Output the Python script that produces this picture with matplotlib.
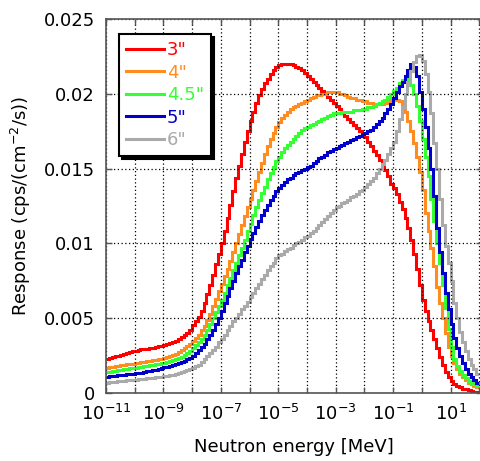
import numpy as np
import matplotlib
matplotlib.use("Agg")
import matplotlib.pyplot as plt

# bin edges: 10 bins per decade, 1e-11 .. 1e2 MeV
edges = 10 ** np.linspace(-11, 2, 131)

labels = ['3"', '4"', '4.5"', '5"', '6"']
colors = ['#ff0000', '#ff8c1e', '#33ff33', '#0000cc', '#aaaaaa']

# responses, one row per decade
r3 = [
    0.00230, 0.00235, 0.00240, 0.00245, 0.00250, 0.00256, 0.00262, 0.00268, 0.00274, 0.00280,
    0.00284, 0.00288, 0.00291, 0.00294, 0.00297, 0.00300, 0.00304, 0.00308, 0.00312, 0.00316,
    0.00322, 0.00328, 0.00334, 0.00341, 0.00350, 0.00360, 0.00372, 0.00386, 0.00402, 0.00422,
    0.00455, 0.0048, 0.0051, 0.0055, 0.0060, 0.0066, 0.0072, 0.0079, 0.0086, 0.0093,
    0.0100, 0.0108, 0.0117, 0.0126, 0.0135, 0.0144, 0.0152, 0.0160, 0.0168, 0.0175,
    0.0182, 0.0188, 0.0194, 0.0199, 0.0203, 0.0207, 0.0210, 0.0213, 0.0216, 0.0218,
    0.0219, 0.0220, 0.0220, 0.0220, 0.0220, 0.0219, 0.0218, 0.0217, 0.0216, 0.0214,
    0.0212, 0.0210, 0.0208, 0.0206, 0.0204, 0.0202, 0.0200, 0.0198, 0.0196, 0.0194,
    0.0192, 0.0190, 0.0187, 0.0185, 0.0183, 0.0181, 0.0179, 0.0177, 0.0175, 0.0173,
    0.0171, 0.0168, 0.0165, 0.0162, 0.0159, 0.0156, 0.0153, 0.0149, 0.0145, 0.0140,
    0.0137, 0.0133, 0.0128, 0.0123, 0.0117, 0.0110, 0.0102, 0.0093, 0.0083, 0.0072,
    0.0062, 0.0055, 0.0048, 0.0042, 0.0036, 0.0030, 0.0024, 0.0019, 0.0014, 0.0011,
    0.0008, 0.0006, 0.0005, 0.0004, 0.0003, 0.00025, 0.0002, 0.00015, 0.0001, 0.0001,
]
r4 = [
    0.00170, 0.00173, 0.00176, 0.00179, 0.00182, 0.00185, 0.00188, 0.00191, 0.00194, 0.00197,
    0.00200, 0.00203, 0.00206, 0.00209, 0.00212, 0.00215, 0.00218, 0.00221, 0.00225, 0.00229,
    0.00234, 0.00240, 0.00247, 0.00255, 0.00264, 0.00274, 0.00285, 0.00298, 0.00312, 0.00328,
    0.00345, 0.00365, 0.0039, 0.0042, 0.0045, 0.0049, 0.0053, 0.0058, 0.0063, 0.0068,
    0.0073, 0.0078, 0.0083, 0.0088, 0.0094, 0.0100, 0.0106, 0.0112, 0.0118, 0.0124,
    0.0130, 0.0136, 0.0142, 0.0148, 0.0154, 0.0160, 0.0165, 0.0170, 0.0174, 0.0178,
    0.0181, 0.0184, 0.0186, 0.0188, 0.0190, 0.0191, 0.0192, 0.0193, 0.0194, 0.0195,
    0.0196, 0.0197, 0.0198, 0.0199, 0.0199, 0.0200, 0.0200, 0.0201, 0.0201, 0.0201,
    0.0201, 0.0200, 0.0200, 0.0199, 0.0198, 0.0197, 0.0197, 0.0196, 0.0196, 0.0195,
    0.0195, 0.0194, 0.0194, 0.0193, 0.0193, 0.0193, 0.0193, 0.0194, 0.0195, 0.0196,
    0.0196, 0.0196, 0.0195, 0.0192, 0.0188, 0.0182, 0.0175, 0.0167, 0.0158, 0.0148,
    0.0136, 0.0120, 0.0108, 0.0097, 0.0085, 0.0071, 0.0060, 0.0050, 0.0040, 0.0031,
    0.0025, 0.0020, 0.0016, 0.0013, 0.0011, 0.0009, 0.0007, 0.0006, 0.0005, 0.0004,
]
r45 = [
    0.00140, 0.00143, 0.00146, 0.00149, 0.00152, 0.00155, 0.00158, 0.00161, 0.00164, 0.00167,
    0.00170, 0.00173, 0.00176, 0.00179, 0.00182, 0.00185, 0.00188, 0.00191, 0.00195, 0.00199,
    0.00203, 0.00207, 0.00212, 0.00218, 0.00225, 0.00233, 0.00243, 0.00254, 0.00267, 0.00282,
    0.0030, 0.0032, 0.0034, 0.0036, 0.0039, 0.0042, 0.0046, 0.0050, 0.0054, 0.0058,
    0.0062, 0.0067, 0.0072, 0.0077, 0.0082, 0.0087, 0.0092, 0.0097, 0.0102, 0.0108,
    0.0113, 0.0119, 0.0124, 0.0129, 0.0134, 0.0138, 0.0143, 0.0147, 0.0151, 0.0155,
    0.0158, 0.0161, 0.0164, 0.0166, 0.0168, 0.0170, 0.0172, 0.0174, 0.0176, 0.0177,
    0.0178, 0.0179, 0.0180, 0.0181, 0.0182, 0.0183, 0.0184, 0.0185, 0.0186, 0.0187,
    0.0187, 0.0187, 0.0188, 0.0188, 0.0188, 0.0188, 0.0189, 0.0189, 0.0189, 0.0190,
    0.0190, 0.0191, 0.0191, 0.0192, 0.0193, 0.0194, 0.0195, 0.0196, 0.0198, 0.0200,
    0.0202, 0.0204, 0.0207, 0.0209, 0.0210, 0.0210, 0.0206, 0.0200, 0.0192, 0.0182,
    0.0170, 0.0158, 0.0145, 0.0130, 0.0115, 0.0100, 0.0087, 0.0072, 0.0057, 0.0043,
    0.0031, 0.0023, 0.0018, 0.0015, 0.0012, 0.0010, 0.0008, 0.0007, 0.0006, 0.0005,
]
r5 = [
    0.00110, 0.00112, 0.00114, 0.00116, 0.00118, 0.00120, 0.00122, 0.00124, 0.00126, 0.00128,
    0.00131, 0.00134, 0.00137, 0.00140, 0.00144, 0.00148, 0.00152, 0.00156, 0.00161, 0.00166,
    0.00171, 0.00175, 0.00180, 0.00185, 0.00191, 0.00198, 0.00206, 0.00215, 0.00225, 0.00237,
    0.0025, 0.0027, 0.0029, 0.0031, 0.0033, 0.0036, 0.0039, 0.0042, 0.0046, 0.0050,
    0.0055, 0.0060, 0.0065, 0.0070, 0.0075, 0.0080, 0.0085, 0.0089, 0.0094, 0.0098,
    0.0103, 0.0107, 0.0111, 0.0115, 0.0119, 0.0122, 0.0126, 0.0129, 0.0132, 0.0135,
    0.0137, 0.0139, 0.0141, 0.0143, 0.0144, 0.0146, 0.0147, 0.0148, 0.0149, 0.0150,
    0.0151, 0.0152, 0.0154, 0.0155, 0.0157, 0.0158, 0.0159, 0.0161, 0.0162, 0.0163,
    0.0164, 0.0165, 0.0166, 0.0167, 0.0168, 0.0169, 0.0170, 0.0171, 0.0172, 0.0173,
    0.0174, 0.0175, 0.0176, 0.0178, 0.0180, 0.0182, 0.0184, 0.0187, 0.0190, 0.0193,
    0.0197, 0.0201, 0.0205, 0.0208, 0.0212, 0.0216, 0.0220, 0.0218, 0.0212, 0.0201,
    0.0190, 0.0178, 0.0164, 0.0150, 0.0132, 0.0110, 0.0094, 0.0080, 0.0067, 0.0056,
    0.0046, 0.0037, 0.0030, 0.0025, 0.0020, 0.0016, 0.0013, 0.0011, 0.0009, 0.0007,
]
r6 = [
    0.00070, 0.00072, 0.00074, 0.00076, 0.00078, 0.00080, 0.00082, 0.00084, 0.00086, 0.00088,
    0.00090, 0.00092, 0.00094, 0.00096, 0.00098, 0.00100, 0.00102, 0.00104, 0.00106, 0.00109,
    0.00112, 0.00115, 0.00118, 0.00122, 0.00127, 0.00132, 0.00138, 0.00145, 0.00153, 0.00162,
    0.0017, 0.0018, 0.0019, 0.0021, 0.0023, 0.0025, 0.0027, 0.0029, 0.0031, 0.0034,
    0.0036, 0.0039, 0.0042, 0.0045, 0.0048, 0.0050, 0.0053, 0.0056, 0.0058, 0.0061,
    0.0064, 0.0067, 0.0070, 0.0073, 0.0076, 0.0079, 0.0082, 0.0085, 0.0087, 0.0090,
    0.0092, 0.0093, 0.0095, 0.0096, 0.0097, 0.0099, 0.0100, 0.0101, 0.0102, 0.0104,
    0.0105, 0.0107, 0.0108, 0.0110, 0.0112, 0.0114, 0.0116, 0.0118, 0.0120, 0.0122,
    0.0124, 0.0125, 0.0127, 0.0128, 0.0129, 0.0131, 0.0132, 0.0133, 0.0135, 0.0136,
    0.0138, 0.0140, 0.0142, 0.0144, 0.0147, 0.0150, 0.0153, 0.0156, 0.0160, 0.0164,
    0.0168, 0.0175, 0.0183, 0.0191, 0.0200, 0.0208, 0.0215, 0.0221, 0.0225, 0.0226,
    0.0222, 0.0213, 0.0201, 0.0187, 0.0167, 0.0150, 0.0130, 0.0112, 0.0098, 0.0087,
    0.0075, 0.0060, 0.0050, 0.0041, 0.0034, 0.0028, 0.0023, 0.0019, 0.0016, 0.0013,
]
series = [r3, r4, r45, r5, r6]

label_decades = [-11, -9, -7, -5, -3, -1, 1]
yticks = [0, 0.005, 0.01, 0.015, 0.02, 0.025]
ytick_labels = ['0', '0.005', '0.01', '0.015', '0.02', '0.025']

plt.rcParams['font.family'] = ['DejaVu Sans']
plt.rcParams['mathtext.default'] = 'regular'

fig = plt.figure(figsize=(4.8, 4.61), dpi=100)
ax = fig.add_axes([106 / 480, 68 / 461, 376.4 / 480, 374 / 461])

for vals, lab, col in zip(series, labels, colors):
    ax.stairs(vals, edges, baseline=None, color=col, lw=2.2, label=lab)

ax.set_xscale('log')
ax.set_xlim(1e-11, 10 ** 2.11)
ax.set_ylim(0, 0.025)

decades = list(range(-11, 3))
ax.set_xticks([10.0 ** e for e in decades])
ax.set_xticklabels(['$10^{%d}$' % e if e in label_decades else '' for e in decades])
ax.xaxis.set_minor_locator(matplotlib.ticker.NullLocator())
ax.set_yticks(yticks)
ax.set_yticklabels(ytick_labels)

ax.grid(True, which='major', color='black', linestyle=(0, (1, 2)), linewidth=0.9)
ax.tick_params(direction='in', length=4, width=1, top=True, right=True,
               labelsize=13, pad=8, color='#555555')
for s in ax.spines.values():
    s.set_color('#555555')
    s.set_linewidth(1.2)

ax.set_xlabel('Neutron energy [MeV]', fontsize=13, labelpad=10)
ax.set_ylabel('Response (cps/(cm$^{-2}$/s))', fontsize=13, labelpad=8)

leg = ax.legend(loc='upper left', bbox_to_anchor=(0.035, 0.96), borderaxespad=0,
                fancybox=False, shadow={'color': 'black', 'alpha': 1},
                framealpha=1, edgecolor='black', fontsize=13,
                handlelength=2.1, handletextpad=0.15, labelspacing=0.25,
                borderpad=0.4)
leg.get_frame().set_linewidth(1.5)
for txt, col in zip(leg.get_texts(), colors):
    txt.set_color(col)

fig.savefig('out.png', dpi=100)
